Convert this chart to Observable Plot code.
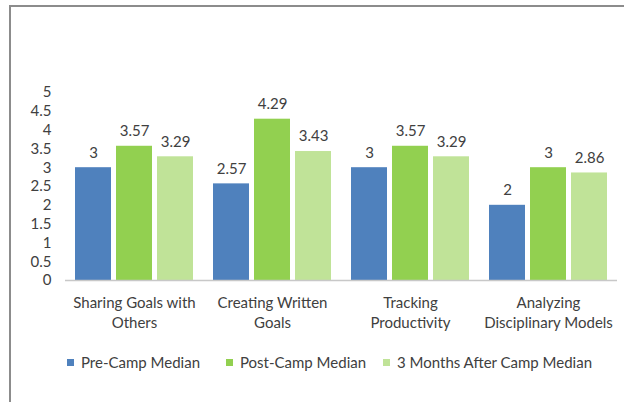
<!DOCTYPE html>
<html>
<head>
<meta charset="utf-8">
<script src="https://cdn.jsdelivr.net/npm/d3@7"></script>
<script src="https://cdn.jsdelivr.net/npm/@observablehq/plot@0.6"></script>
<style>
  html, body { margin: 0; padding: 0; background: #fff; overflow: hidden; }
  #wrap { position: relative; width: 624px; height: 402px; font-family: Lato, "DejaVu Sans", sans-serif; color: #404040; }
  #border { position: absolute; left: 9px; top: 5px; width: 700px; height: 500px; border-left: 2px solid #8c8c8c; border-top: 2px solid #8c8c8c; }
  #chart { position: absolute; left: 0; top: 0; }
  #legend { position: absolute; top: 352px; left: 0; width: 624px; height: 20px; font-size: 15px; }
  .item { position: absolute; top: 0; display: flex; align-items: center; height: 20px; white-space: nowrap; }
  .sw { width: 7px; height: 7px; margin-right: 7px; }
</style>
</head>
<body>
<div id="wrap">
  <div id="border"></div>
  <div id="chart"></div>
  <div id="legend"></div>
</div>
<script>
const categories = ["Sharing Goals with Others", "Creating Written Goals", "Tracking Productivity", "Analyzing Disciplinary Models"];
const categoryLabels = ["Sharing Goals with\nOthers", "Creating Written\nGoals", "Tracking\nProductivity", "Analyzing\nDisciplinary Models"];
const series = ["Pre-Camp Median", "Post-Camp Median", "3 Months After Camp Median"];
const preCamp = [3, 2.57, 3, 2];
const postCamp = [3.57, 4.29, 3.57, 3];
const threeMonthsAfter = [3.29, 3.43, 3.29, 2.86];
const yTicks = [0, 0.5, 1, 1.5, 2, 2.5, 3, 3.5, 4, 4.5, 5];
const colors = ["#4F81BD", "#92D050", "#C0E398"];

const seriesValues = [preCamp, postCamp, threeMonthsAfter];
const data = [];
categories.forEach((c, i) => {
  series.forEach((s, j) => {
    data.push({category: c, series: s, value: seriesValues[j][i]});
  });
});
const labelOf = new Map(categories.map((c, i) => [c, categoryLabels[i]]));

const chart = Plot.plot({
  width: 624,
  height: 345,
  marginLeft: 64,
  marginRight: 7,
  marginTop: 92,
  marginBottom: 65,
  style: {fontFamily: "Lato, sans-serif", fontSize: "15px", color: "#404040", background: "transparent"},
  fx: {domain: categories, paddingInner: 0, paddingOuter: 0, label: null},
  x: {domain: series, paddingInner: 0.13, paddingOuter: 0.232, axis: null},
  y: {domain: [0, 5], label: null},
  color: {domain: series, range: colors},
  marks: [
    Plot.axisY({ticks: yTicks, tickFormat: d => String(d), tickSize: 0, tickPadding: 14, line: true, stroke: "#C8C8C8", fill: "#404040", fontSize: 15, label: null}),
    Plot.axisFx({anchor: "bottom", tickSize: 0, tickPadding: 13, lineHeight: 1.35, fontSize: 15, fill: "#404040", tickFormat: d => labelOf.get(d), label: null}),
    Plot.barY(data, {fx: "category", x: "series", y: "value", fill: "series"}),
    Plot.ruleY([0], {stroke: "#C8C8C8", strokeWidth: 1.5}),
    Plot.text(data, {fx: "category", x: "series", y: "value", text: d => String(d.value), dy: -15, fill: "#404040", fontSize: 15})
  ]
});
document.getElementById("chart").appendChild(chart);

const legend = document.getElementById("legend");
const legendX = [67, 226, 383];
series.forEach((s, i) => {
  const item = document.createElement("div");
  item.className = "item";
  item.style.left = legendX[i] + "px";
  const sw = document.createElement("span");
  sw.className = "sw";
  sw.style.background = colors[i];
  const t = document.createElement("span");
  t.textContent = s;
  item.appendChild(sw);
  item.appendChild(t);
  legend.appendChild(item);
});
</script>
</body>
</html>
